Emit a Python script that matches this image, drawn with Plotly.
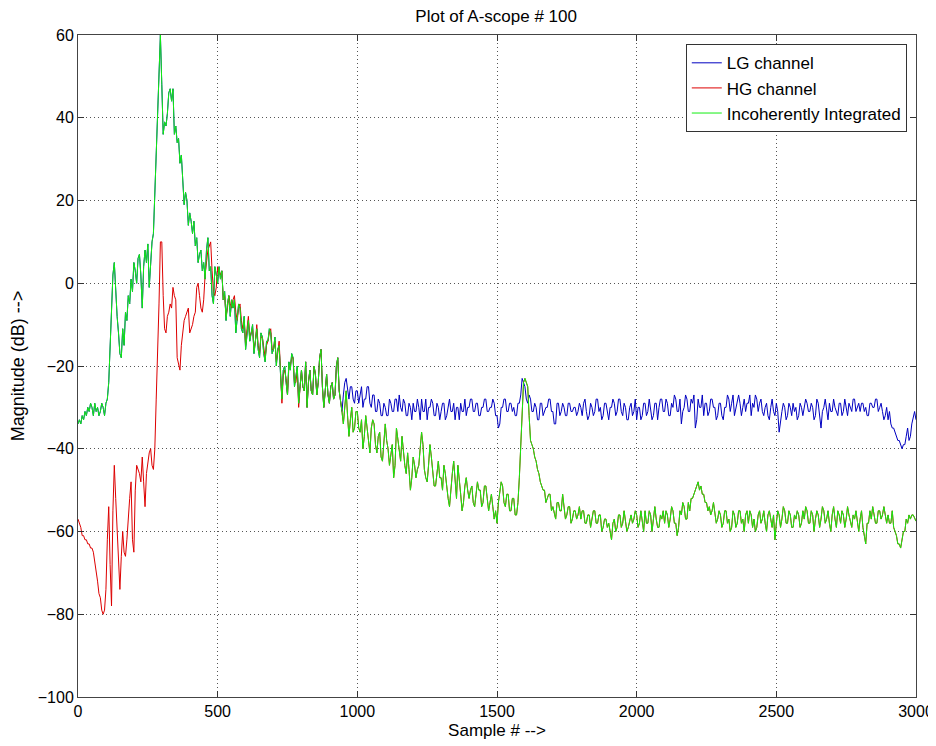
import plotly.graph_objects as go

# sample index (every 5th sample)
samples = list(range(0, 3001, 5))

# Incoherently integrated (green), samples 0..3000 step 5
integrated_db = [
    -34, -33, -34, -32, -33, -31, -32, -30, -31, -29, -30, -32, -29, -31, -30, -32, -31, -29, -30, -32,
    -29, -28, -24, -15, -8, 2, 5, -3, -8, -12, -17, -18, -11, -15, -7, -9, -3, -5, 1, -2,
    5, 3, 0, 6, 7, 2, -6, 4, 8, 5, 9.5, -1, 6, 10, 12, 21, 32, 43, 50, 60,
    48, 36, 39, 38, 41, 46, 47, 44, 47, 36, 38, 34, 35, 29, 31, 24, 19, 22, 20, 14,
    17, 15, 12, 15, 9, 11, 5, 7, 8, 3, 5, 1, 8, 11, 3, 4, -3, -5, 4, 2,
    0, 4, 1, 3, -4, -2, -9, -5, -3, -8, -4, -6, -4, -12, -9, -5, -6, -11, -12, -8,
    -16, -12, -9, -14, -12, -10, -17, -13, -11, -16, -18, -12, -13, -17, -19, -14, -14, -11, -12, -17,
    -16, -13, -20, -16, -15, -22, -28, -21, -20, -24, -27, -19, -21, -17, -18, -25, -23, -20, -29, -24,
    -21, -25, -26, -19, -30, -24, -21, -26, -27, -20, -22, -27, -24, -18, -16, -25, -30, -26, -22, -27,
    -29, -25, -24, -28, -27, -20, -18, -26, -28, -31, -34, -29, -26, -32, -37, -33, -30, -36, -35, -31,
    -31, -35, -36, -33, -40, -37, -32, -35, -38, -41, -35, -33, -34, -39, -41, -37, -36, -42, -43, -38,
    -34, -38, -40, -44, -42, -39, -47, -44, -35, -38, -40, -43, -37, -41, -44, -46, -41, -45, -50, -47,
    -42, -44, -47, -45, -44, -40, -36, -39, -45, -47, -48, -44, -39, -42, -46, -49, -49, -45, -43, -47,
    -47, -50, -44, -46, -50, -52, -54, -49, -46, -43, -49, -52, -44, -47, -51, -55, -53, -49, -47, -50,
    -52, -50, -49, -53, -54, -51, -48, -50, -50, -54, -53, -49, -49, -52, -55, -53, -51, -54, -57, -55,
    -58, -53, -50, -48, -49, -53, -54, -51, -51, -55, -55, -52, -52, -56, -56, -53, -47, -40, -30, -24,
    -23, -24, -25, -32, -38, -39, -40, -42, -43, -45, -46, -48, -49, -50, -50, -53, -52, -51, -51, -55,
    -54, -56, -57, -53, -53, -55, -55, -51, -54, -57, -56, -54, -54, -58, -57, -55, -55, -57, -56, -54,
    -57, -55, -55, -58, -58, -56, -56, -59, -57, -55, -55, -58, -58, -56, -56, -60, -59, -57, -57, -59,
    -58, -60, -62, -58, -57, -60, -59, -56, -56, -59, -58, -55, -57, -60, -59, -57, -56, -58, -57, -55,
    -56, -59, -58, -55, -57, -60, -55, -58, -58, -55, -56, -60, -57, -54, -57, -59, -59, -56, -57, -55,
    -58, -55, -56, -59, -57, -54, -55, -58, -58, -61, -59, -55, -56, -53, -54, -57, -57, -53, -55, -52,
    -52, -51, -50, -49, -48, -50, -49, -51, -51, -53, -53, -55, -54, -56, -55, -53, -56, -58, -57, -55,
    -56, -59, -58, -55, -55, -58, -57, -60, -59, -55, -56, -59, -58, -55, -55, -58, -57, -60, -56, -55,
    -58, -55, -56, -59, -57, -60, -59, -56, -55, -58, -57, -55, -58, -60, -56, -55, -57, -59, -56, -62,
    -58, -55, -56, -59, -57, -54, -55, -58, -58, -55, -56, -59, -59, -56, -57, -55, -56, -59, -58, -55,
    -57, -54, -55, -58, -58, -55, -56, -60, -57, -55, -56, -59, -57, -54, -55, -58, -57, -55, -58, -60,
    -56, -54, -57, -59, -55, -56, -58, -55, -56, -59, -57, -54, -56, -58, -59, -56, -57, -55, -58, -60,
    -57, -55, -59, -61, -63, -58, -58, -55, -57, -54, -56, -58, -58, -55, -55, -57, -56, -54, -56, -58,
    -56, -58, -58, -55, -59, -60, -61, -63, -63, -64, -62, -60, -60, -57, -58, -56, -57, -56, -56, -57,
    -57.5,
]

# LG channel (blue) from sample 950 on; before that it lies under the green trace
lg_tail_db = [
    -27, -24, -23, -26, -28, -25, -25, -28, -29, -26,
    -26, -29, -27, -25, -30, -28, -28, -25, -25, -29, -30, -27, -27, -31, -31, -28, -29, -32, -32, -29,
    -30, -32, -32, -28, -29, -31, -31, -28, -28, -31, -27, -30, -31, -28, -29, -32, -32, -29, -30, -33,
    -29, -31, -31, -28, -30, -33, -28, -31, -31, -28, -33, -30, -30, -28, -29, -32, -32, -29, -30, -33,
    -31, -29, -29, -33, -32, -30, -28, -31, -31, -29, -33, -30, -30, -33, -29, -31, -31, -28, -32, -30,
    -30, -28, -28, -31, -31, -29, -29, -32, -32, -30, -30, -28, -28, -31, -31, -30, -30, -28, -29, -32,
    -32, -35, -34, -30, -30, -28, -28, -31, -31, -29, -29, -31, -30, -32, -32, -29, -29, -27, -23, -24,
    -25, -28, -29, -27, -28, -31, -31, -29, -30, -33, -33, -29, -29, -32, -31, -30, -30, -28, -28, -31,
    -31, -34, -34, -29, -29, -32, -31, -29, -30, -32, -32, -29, -29, -31, -31, -30, -30, -32, -31, -29,
    -30, -32, -29, -28, -31, -33, -32, -29, -30, -32, -31, -28, -28, -31, -30, -33, -32, -29, -29, -31,
    -33, -30, -30, -28, -29, -32, -31, -28, -28, -31, -32, -29, -30, -33, -33, -30, -29, -32, -31, -28,
    -33, -30, -30, -33, -32, -29, -29, -32, -31, -28, -30, -33, -32, -29, -29, -33, -30, -28, -28, -31,
    -31, -28, -29, -32, -32, -29, -30, -27, -28, -31, -31, -28, -34, -31, -30, -27, -28, -31, -31, -28,
    -29, -27, -35, -33, -28, -30, -30, -27, -32, -29, -29, -32, -31, -28, -28, -30, -30, -33, -32, -29,
    -29, -32, -33, -30, -30, -27, -28, -31, -29, -27, -32, -30, -28, -27, -29, -32, -30, -28, -31, -29,
    -29, -27, -32, -29, -30, -27, -28, -31, -29, -28, -31, -32, -30, -29, -32, -33, -30, -28, -31, -32,
    -29, -31, -36, -33, -31, -29, -30, -33, -32, -29, -30, -32, -29, -31, -30, -33, -32, -29, -30, -32,
    -30, -28, -29, -31, -31, -29, -30, -33, -32, -28, -29, -32, -35, -31, -30, -28, -30, -33, -29, -31,
    -31, -28, -30, -31, -32, -29, -29, -32, -31, -28, -30, -32, -29, -30, -31, -28, -28, -31, -30, -29,
    -31, -29, -29, -31, -30, -32, -32, -29, -29, -30, -30, -28, -28, -31, -30, -29, -31, -33, -32, -30,
    -33, -31, -34, -35, -35, -36, -37, -38, -38, -39, -40, -39, -39, -37, -35, -38, -37, -34, -32, -31,
    -33,
]

# HG channel (red) up to sample 795; after that it lies under the green trace
hg_head_db = [
    -57, -58, -59, -61, -61, -62, -62, -63, -63, -64, -64, -65, -67, -70, -72, -75, -76, -79, -80, -79,
    -74, -62, -54, -68, -78, -55, -44, -52, -60, -70, -74, -66, -60, -65, -66, -62, -56, -52, -48, -62,
    -65, -50, -44, -45, -46, -48, -42, -48, -54, -46, -43, -41, -40, -44, -45, -40, -28, -18, -5, 10,
    10, -3, -11, -12, -8, -7, -5, -6, -1, -3, -4, -18, -20, -21, -15, -12, -9, -8, -7, -6,
    -12, -11, -10, -8, -7, -1, 0, -3, -6, -7, -4, 2, 6, 8, 9, 10, 3, -2, -3, -1,
    4, 3, 2, 3, -4, -3, -8, -6, -3, -5, -6, -4, -3, -7, -9, -6, -5, -9, -11, -9,
    -15, -11, -8, -13, -12, -11, -16, -14, -10, -15, -17, -13, -13, -16, -18, -15, -14, -12, -11, -16,
    -16, -14, -19, -17, -14, -21, -29, -22, -21, -23, -27, -20, -20, -18, -18, -24, -24, -21, -30, -25,
]

lg_db = integrated_db[:190] + lg_tail_db
hg_db = hg_head_db + integrated_db[160:]

x_ticks = [0, 500, 1000, 1500, 2000, 2500, 3000]
y_ticks = [-100, -80, -60, -40, -20, 0, 20, 40, 60]

font_family = "Liberation Sans, Arial, Helvetica, sans-serif"

fig = go.Figure()
fig.add_trace(go.Scatter(x=samples, y=lg_db, mode="lines", name="LG channel",
                         line=dict(color="#0000c0", width=1)))
fig.add_trace(go.Scatter(x=samples, y=hg_db, mode="lines", name="HG channel",
                         line=dict(color="#dd0000", width=1)))
fig.add_trace(go.Scatter(x=samples, y=integrated_db, mode="lines",
                         name="Incoherently Integrated",
                         line=dict(color="#11ee11", width=1)))

axis_common = dict(
    showline=True, linecolor="#444444", linewidth=1, mirror="ticks",
    ticks="inside", ticklen=6, tickcolor="#333333",
    showgrid=True, gridcolor="#555555", griddash="1px,3px", gridwidth=1,
    zeroline=False, automargin=False,
    tickfont=dict(size=16, color="black", family=font_family),
)

# The page places the figure 8 px in from the top-left corner.
fig.update_layout(
    width=928, height=738,
    margin=dict(l=70, r=20, t=27, b=49),
    paper_bgcolor="white", plot_bgcolor="white",
    font=dict(family=font_family, size=17, color="black"),
    title=dict(text="Plot of A-scope # 100", x=0.526, xanchor="center",
               y=0.989, yanchor="middle",
               font=dict(size=17, family=font_family, color="black")),
    xaxis=dict(range=[0, 3000], tickvals=x_ticks,
               title=dict(text="Sample # -->", standoff=4,
                          font=dict(size=17, family=font_family, color="black")),
               **axis_common),
    yaxis=dict(range=[-100, 60], tickvals=y_ticks,
               title=dict(text="Magnitude (dB) -->", standoff=9,
                          font=dict(size=18, family=font_family, color="black")),
               **axis_common),
    legend=dict(x=0.989, xanchor="right", y=0.986, yanchor="top",
                bgcolor="white", bordercolor="#333333", borderwidth=1,
                font=dict(size=17, family=font_family, color="black"),
                itemwidth=30, tracegroupgap=0),
    showlegend=True,
)

fig.write_html("out.html")
